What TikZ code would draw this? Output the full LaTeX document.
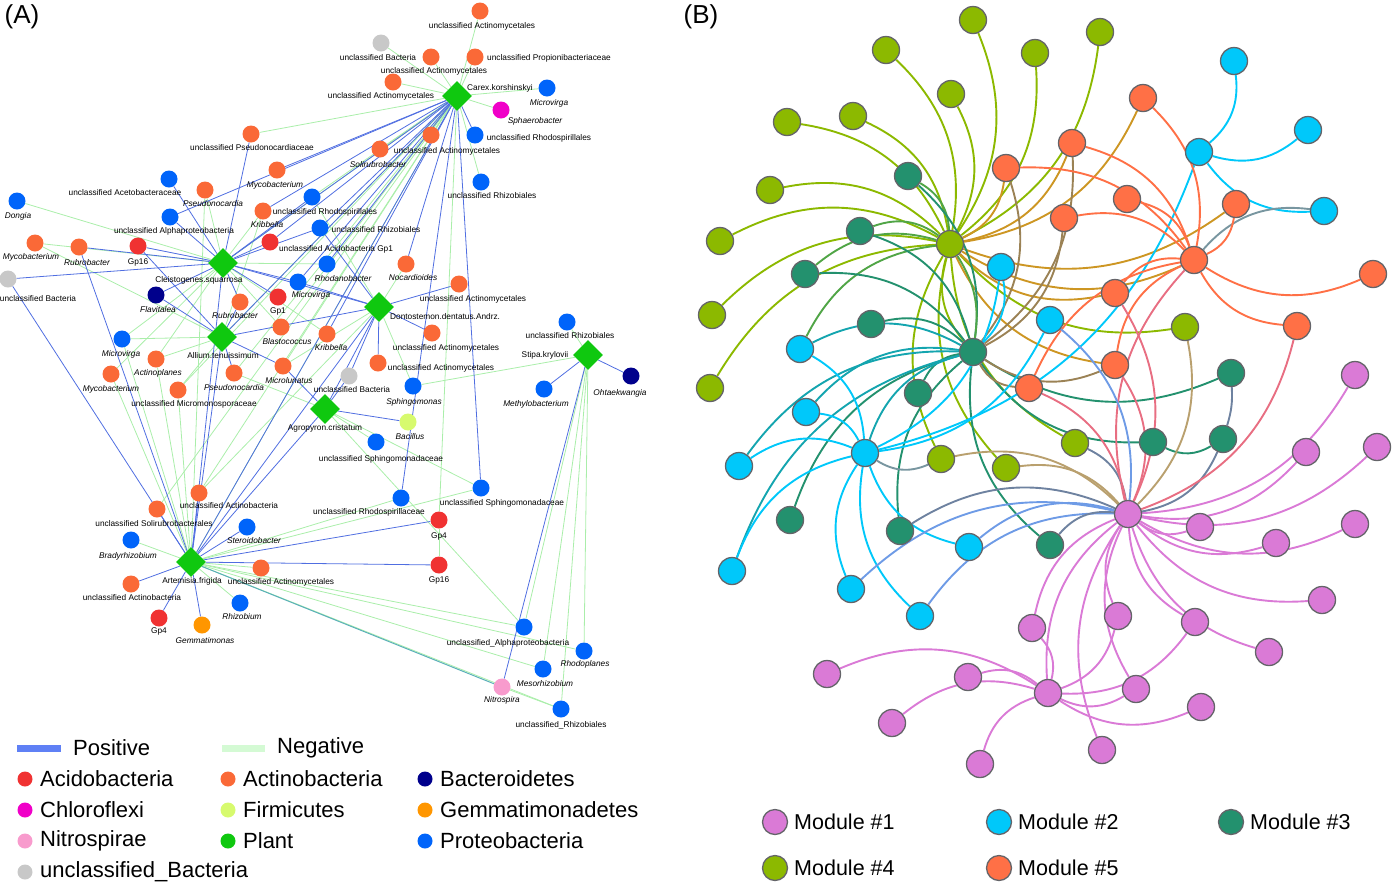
\documentclass[tikz,border=0pt]{standalone}
\usepackage{fontspec}
\setmainfont{Liberation Sans}
\usetikzlibrary{shapes.geometric}
\pgfdeclarelayer{edges}
\pgfsetlayers{edges,main}
\definecolor{cPos}{RGB}{80,110,225}
\definecolor{cNeg}{RGB}{170,238,170}
\definecolor{cPosL}{RGB}{95,128,245}
\definecolor{cNegL}{RGB}{212,250,212}
\definecolor{cAci}{RGB}{240,50,50}
\definecolor{cAct}{RGB}{250,105,55}
\definecolor{cBac}{RGB}{0,0,140}
\definecolor{cChl}{RGB}{240,0,200}
\definecolor{cFir}{RGB}{215,250,110}
\definecolor{cGem}{RGB}{255,150,0}
\definecolor{cNit}{RGB}{248,155,205}
\definecolor{cPla}{RGB}{15,200,15}
\definecolor{cPro}{RGB}{0,100,250}
\definecolor{cUnc}{RGB}{200,200,200}
\definecolor{cTeal}{RGB}{90,175,185}
\definecolor{mA}{RGB}{218,122,214}
\definecolor{mB}{RGB}{0,200,250}
\definecolor{mC}{RGB}{35,145,110}
\definecolor{mD}{RGB}{140,185,0}
\definecolor{mE}{RGB}{255,112,70}
\definecolor{eDE}{RGB}{205,150,35}
\definecolor{eCD}{RGB}{80,165,70}
\definecolor{eBC}{RGB}{20,165,175}
\definecolor{eCE}{RGB}{155,130,85}
\definecolor{eAE}{RGB}{232,110,130}
\definecolor{eAB}{RGB}{110,155,230}
\definecolor{eAC}{RGB}{110,130,160}
\definecolor{eAD}{RGB}{185,160,110}
\definecolor{eBE}{RGB}{120,150,160}
\definecolor{nodeB}{RGB}{100,100,105}
\newcommand{\Mn}[7]{\node[mic,fill=#4] (#1) at (#2,#3) {}; \node[lab] (#1l) at (#5,#6) {#7};}
\begin{document}
\begin{tikzpicture}[x=1pt,y=-1pt,
  mic/.style={circle,minimum size=17pt,inner sep=0pt},
  plant/.style={diamond,fill=cPla,minimum width=30pt,minimum height=30pt,inner sep=0pt},
  lab/.style={font=\fontsize{8.3}{9}\selectfont,inner sep=0pt},
  posedge/.style={draw=cPos,line width=0.8pt},
  negedge/.style={draw=cNeg,line width=0.8pt},
  bn/.style={circle,draw=nodeB,line width=1.3pt,minimum size=27pt,inner sep=0pt},
  be/.style={line width=1.9pt},
  leg/.style={font=\fontsize{22}{24}\selectfont,inner sep=0pt,anchor=west},
  legB/.style={font=\fontsize{21.5}{24}\selectfont,inner sep=0pt,anchor=west},
  ldot/.style={circle,minimum size=15pt,inner sep=0pt}]
\useasboundingbox (0,0) rectangle (1392,887);
\node[font=\fontsize{26}{28}\selectfont,inner sep=0pt] (tA) at (22,17) {(A)};
\node[font=\fontsize{26}{28}\selectfont,inner sep=0pt] (tB) at (701,17) {(B)};
% ---------- Panel A nodes ----------
\node[plant] (car) at (457,96) {}; \node[lab,anchor=west] (carl) at (467,88) {Carex.korshinskyi};
\node[plant] (cle) at (223,263) {}; \node[lab] (clel) at (199,280) {Cleistogenes.squarrosa};
\node[plant] (all) at (222,337) {}; \node[lab] (alll) at (223,356) {Allium.tenuissimum};
\node[plant] (don) at (379,307) {}; \node[lab,anchor=west] (donl) at (390,317) {Dontostemon.dentatus.Andrz.};
\node[plant] (agr) at (325,409) {}; \node[lab] (agrl) at (325,428) {Agropyron.cristatum};
\node[plant] (sti) at (588,355) {}; \node[lab] (stil) at (545,355) {Stipa.krylovii};
\node[plant] (art) at (191,562) {}; \node[lab] (artl) at (192,581) {Artemisia.frigida};
\Mn{a1}{480}{11}{cAct}{482}{26}{unclassified Actinomycetales}
\Mn{a2}{381}{43}{cUnc}{378}{58}{unclassified Bacteria}
\Mn{a3}{431}{57}{cAct}{434}{71}{unclassified Actinomycetales}
\Mn{a4}{475}{57}{cAct}{549}{58}{unclassified Propionibacteriaceae}
\Mn{a5}{393}{82}{cAct}{381}{96}{unclassified Actinomycetales}
\Mn{a6}{547}{88}{cPro}{549}{103}{\itshape Microvirga}
\Mn{a7}{501}{110}{cChl}{535}{121}{\itshape Sphaerobacter}
\Mn{a8}{431}{135}{cAct}{447}{151}{unclassified Actinomycetales}
\Mn{a9}{475}{135}{cPro}{539}{138}{unclassified Rhodospirillales}
\Mn{a10}{380}{149}{cAct}{378}{165}{\itshape Solirubrobacter}
\Mn{a11}{481}{182}{cPro}{492}{196}{unclassified Rhizobiales}
\Mn{a12}{251}{134}{cAct}{252}{148}{unclassified Pseudonocardiaceae}
\Mn{a13}{277}{170}{cAct}{275}{185}{\itshape Mycobacterium}
\Mn{a14}{169}{179}{cPro}{125}{193}{unclassified Acetobacteraceae}
\Mn{a15}{205}{190}{cAct}{213}{204}{\itshape Pseudonocardia}
\Mn{a16}{312}{197}{cPro}{325}{212}{unclassified Rhodospirillales}
\Mn{a17}{263}{211}{cAct}{267}{225}{\itshape Kribbella}
\Mn{a18}{17}{201}{cPro}{18}{216}{\itshape Dongia}
\Mn{a19}{170}{217}{cPro}{174}{231}{unclassified Alphaproteobacteria}
\Mn{a20}{320}{228}{cPro}{376}{230}{unclassified Rhizobiales}
\Mn{a21}{270}{242}{cAci}{336}{249}{unclassified Acidobacteria Gp1}
\Mn{a22}{35}{243}{cAct}{31}{257}{\itshape Mycobacterium}
\Mn{a23}{79}{247}{cAct}{87}{263}{\itshape Rubrobacter}
\Mn{a24}{138}{246}{cAci}{138}{262}{Gp16}
\Mn{a25}{327}{264}{cPro}{343}{279}{\itshape Rhodanobacter}
\Mn{a26}{406}{264}{cAct}{413}{278}{\itshape Nocardioides}
\Mn{a27}{8}{279}{cUnc}{38}{299}{unclassified Bacteria}
\Mn{a28}{459}{284}{cAct}{473}{299}{unclassified Actinomycetales}
\Mn{a29}{298}{282}{cPro}{311}{295}{\itshape Microvirga}
\Mn{a30}{156}{295}{cBac}{158}{310}{\itshape Flavitalea}
\Mn{a31}{278}{297}{cAci}{278}{311}{Gp1}
\Mn{a32}{240}{302}{cAct}{235}{316}{\itshape Rubrobacter}
\Mn{a33}{281}{327}{cAct}{287}{342}{\itshape Blastococcus}
\Mn{a34}{327}{334}{cAct}{331}{348}{\itshape Kribbella}
\Mn{a35}{432}{333}{cAct}{446}{348}{unclassified Actinomycetales}
\Mn{a36}{122}{339}{cPro}{121}{354}{\itshape Microvirga}
\Mn{a37}{156}{359}{cAct}{158}{373}{\itshape Actinoplanes}
\Mn{a38}{378}{363}{cAct}{441}{368}{unclassified Actinomycetales}
\Mn{a39}{283}{366}{cAct}{289}{381}{\itshape Microlunatus}
\Mn{a40}{234}{373}{cAct}{234}{388}{\itshape Pseudonocardia}
\Mn{a41}{111}{374}{cAct}{111}{389}{\itshape Mycobacterium}
\Mn{a42}{349}{376}{cUnc}{352}{390}{unclassified Bacteria}
\Mn{a43}{413}{386}{cPro}{414}{402}{\itshape Sphingomonas}
\Mn{a44}{178}{390}{cAct}{194}{404}{unclassified Micromonosporaceae}
\Mn{a45}{567}{322}{cPro}{570}{336}{unclassified Rhizobiales}
\Mn{a46}{544}{389}{cPro}{536}{404}{\itshape Methylobacterium}
\Mn{a47}{631}{376}{cBac}{620}{393}{\itshape Ohtaekwangia}
\Mn{a48}{408}{422}{cFir}{410}{437}{\itshape Bacillus}
\Mn{a49}{376}{442}{cPro}{381}{459}{unclassified Sphingomonadaceae}
\Mn{a50}{401}{498}{cPro}{369}{512}{unclassified Rhodospirillaceae}
\Mn{a51}{481}{488}{cPro}{502}{503}{unclassified Sphingomonadaceae}
\Mn{a52}{439}{520}{cAci}{439}{536}{Gp4}
\Mn{a53}{439}{565}{cAci}{439}{580}{Gp16}
\Mn{a54}{199}{493}{cAct}{229}{506}{unclassified Actinobacteria}
\Mn{a55}{157}{509}{cAct}{154}{524}{unclassified Solirubrobacterales}
\Mn{a56}{131}{540}{cPro}{128}{556}{\itshape Bradyrhizobium}
\Mn{a57}{247}{527}{cPro}{254}{541}{\itshape Steroidobacter}
\Mn{a58}{261}{568}{cAct}{281}{582}{unclassified Actinomycetales}
\Mn{a59}{131}{584}{cAct}{132}{598}{unclassified Actinobacteria}
\Mn{a60}{159}{618}{cAci}{159}{631}{Gp4}
\Mn{a61}{202}{625}{cGem}{205}{641}{\itshape Gemmatimonas}
\Mn{a62}{240}{603}{cPro}{242}{617}{\itshape Rhizobium}
\Mn{a63}{524}{627}{cPro}{508}{643}{unclassified\_Alphaproteobacteria}
\Mn{a64}{584}{651}{cPro}{585}{664}{\itshape Rhodoplanes}
\Mn{a65}{543}{669}{cPro}{545}{684}{\itshape Mesorhizobium}
\Mn{a66}{502}{687}{cNit}{502}{700}{\itshape Nitrospira}
\Mn{a67}{561}{709}{cPro}{561}{725}{unclassified\_Rhizobiales}
% ---------- Panel A edges ----------
\begin{pgfonlayer}{edges}
\foreach \a/\b in {car/a1,car/a2,car/a3,car/a4,car/a5,car/a6,car/a7,car/a8,car/a10,car/a11,car/a12,car/a52,car/art,car/all,car/cle,car/a40,car/a39,car/a54,car/a55,car/a44,car/a33,car/a16,
 cle/a18,cle/a22,cle/a15,cle/a17,cle/a25,cle/a33,cle/a34,cle/a37,cle/a41,cle/a36,
 all/a36,all/a37,all/a44,all/a17,all/a22,
 don/a43,don/a16,don/a26,don/a54,don/a39,
 agr/a40,agr/a49,agr/a51,agr/a63,
 art/a56,art/a62,art/a58,art/a50,art/a51,art/a63,art/a65,art/a64,art/a67,art/a41,art/a44,art/a37,art/a36,art/a15,
 sti/a45,sti/a43,sti/a63,sti/a64,sti/a65,sti/a67,a52/a53,a66/a67}
 \draw[negedge] (\a) -- (\b);
\foreach \a/\b in {car/a9,car/a13,car/a19,car/a17,car/a26,car/a50,car/a51,car/cle,car/all,car/art,car/a25,car/a29,car/a34,car/a21,car/a20,
 cle/a14,cle/a12,cle/a19,cle/a24,cle/a23,cle/a27,cle/a30,cle/a21,cle/a20,cle/a29,cle/a32,cle/don,cle/a31,cle/art,cle/a16,
 all/a24,all/a30,all/a32,all/don,all/a39,all/a40,all/art,
 don/a28,don/a35,don/a38,don/a20,don/a29,don/a42,don/agr,don/art,
 agr/a39,agr/a48,agr/a42,agr/art,
 art/a55,art/a54,art/a57,art/a59,art/a60,art/a61,art/a52,art/a53,art/a27,art/a23,
 sti/a46,sti/a47,sti/a66}
 \draw[posedge] (\a) -- (\b);
\draw[draw=cTeal,line width=1pt] (art) -- (a66);
\end{pgfonlayer}
% ---------- Panel A legend ----------
\coordinate (lp1) at (17,748); \coordinate (lp2) at (61,748);
\draw[cPosL,line width=7pt] (lp1) -- (lp2);
\node[leg] (lpt) at (73,748) {Positive};
\coordinate (ln1) at (222,748); \coordinate (ln2) at (265,748);
\draw[cNegL,line width=7pt] (ln1) -- (ln2);
\node[leg] (lnt) at (277,748) {Negative};
\foreach \n/\x/\y/\c/\t in {l1/25/779/cAci/Acidobacteria, l2/228/779/cAct/Actinobacteria, l3/425/779/cBac/Bacteroidetes,
 l4/25/810/cChl/Chloroflexi, l5/228/810/cFir/Firmicutes, l6/425/810/cGem/Gemmatimonadetes,
 l7/25/841/cNit/Nitrospirae, l8/228/841/cPla/Plant, l9/425/841/cPro/Proteobacteria,
 l10/25/872/cUnc/unclassified\_Bacteria}
 {\node[ldot,fill=\c] (\n) at (\x,\y) {}; \node[leg] (\n t) at (\x+15,\y) {\t};}
% ---------- Panel B nodes ----------
\foreach \n/\x/\y in {b4h/950/244,o1/973/20,o2/1100/32,o3/886/50,o4/1035/53,o5/951/94,o6/853/116,o7/787/122,o8/770/190,o9/720/241,o10/712/315,o11/710/388,o12/1185/327,o13/1075/443,o14/941/459,o15/1006/468}
 \node[bn,fill=mD] (\n) at (\x,\y) {};
\foreach \n/\x/\y in {b3h/973/352,g1/908/176,g2/860/231,g3/805/274,g4/871/324,g5/918/393,g6/1231/373,g7/1153/442,g8/1223/439,g9/790/520,g10/900/531,g11/1050/545}
 \node[bn,fill=mC] (\n) at (\x,\y) {};
\foreach \n/\x/\y in {b2h/865/453,c1/1234/61,c2/1308/130,c3/1199/152,c4/1324/211,c5/1001/267,c6/1050/320,c7/800/349,c8/806/412,c9/739/466,c10/732/571,c11/851/589,c12/920/616,c13/969/547}
 \node[bn,fill=mB] (\n) at (\x,\y) {};
\foreach \n/\x/\y in {b5h/1194/260,r1/1143/98,r2/1072/143,r3/1006/168,r4/1127/199,r5/1064/218,r6/1236/204,r7/1373/274,r8/1115/293,r9/1297/326,r10/1115/365,r11/1029/388}
 \node[bn,fill=mE] (\n) at (\x,\y) {};
\foreach \n/\x/\y in {b1h/1128/514,p1/1355/375,p2/1377/447,p3/1306/452,p4/1200/527,p5/1276/543,p6/1355/524,p7/1322/600,p8/1118/616,p9/1032/628,p10/1195/622,p11/1269/652,p12/827/674,p13/968/677,p14/1048/693,p15/1136/689,p16/1201/707,p17/892/723,p18/980/764,p19/1102/750}
 \node[bn,fill=mA] (\n) at (\x,\y) {};
% ---------- Panel B edges ----------
\begin{pgfonlayer}{edges}
\foreach \a/\b/\c in {b4h/o1/mD,b4h/o2/mD,b4h/o3/mD,b4h/o4/mD,b4h/o5/mD,b4h/o6/mD,b4h/o7/mD,b4h/o8/mD,b4h/o9/mD,b4h/o10/mD,b4h/o11/mD,b4h/o12/mD,b4h/o13/mD,b4h/o14/mD,b4h/o15/mD,
 b4h/g1/eCD,b4h/g2/eCD,b4h/g3/eCD,b4h/r1/eDE,b4h/r2/eDE,b4h/r3/eDE,b4h/r6/eDE,b4h/r8/eDE,b4h/r10/eDE,b4h/b5h/eDE,b4h/c7/eCD,b4h/b3h/mD,
 b3h/g1/mC,b3h/g2/mC,b3h/g3/mC,b3h/g4/mC,b3h/g5/mC,b3h/g6/mC,b3h/g7/mC,b3h/g9/mC,b3h/g10/mC,b3h/g11/mC,g7/g8/mC,
 b3h/c7/eBC,b3h/c8/eBC,b3h/c9/eBC,b3h/c10/eBC,b3h/b2h/eBC,b3h/r2/eCE,b3h/r3/eCE,b3h/r5/eCE,b3h/r11/eCE,b3h/r10/eCE,b3h/c5/mB,
 b2h/c7/mB,b2h/c8/mB,b2h/c9/mB,b2h/c10/mB,b2h/c11/mB,b2h/c12/mB,b2h/c13/mB,b2h/c5/mB,b2h/c6/mB,b2h/c3/mB,b2h/o14/eBE,
 c3/c1/mB,c3/c2/mB,c3/c4/mB,c4/b5h/eBE,
 b5h/r1/mE,b5h/r2/mE,b5h/r3/mE,b5h/r4/mE,b5h/r5/mE,b5h/r6/mE,b5h/r7/mE,b5h/r8/mE,b5h/r9/mE,b5h/r10/mE,b5h/r11/mE,b5h/b1h/eAE,
 b1h/p1/mA,b1h/p2/mA,b1h/p3/mA,b1h/p4/mA,b1h/p5/mA,b1h/p6/mA,b1h/p7/mA,b1h/p8/mA,b1h/p9/mA,b1h/p10/mA,b1h/p11/mA,b1h/p14/mA,b1h/p15/mA,b1h/p19/mA,
 b1h/c13/eAB,b1h/c12/eAB,b1h/c11/eAB,b1h/c6/eAB,b1h/g10/eAC,b1h/g11/eAC,b1h/g8/eAC,b1h/o15/eAD,b1h/o13/eAC,b1h/o14/eAD,b1h/o12/eAD,b1h/r11/eAE,b1h/r9/eAE,b1h/r8/eAE,b1h/r10/eAE,
 p14/p12/mA,p14/p13/mA,p14/p17/mA,p14/p18/mA,p14/p9/mA,p14/p15/mA,p14/p16/mA,p14/p10/mA,p14/p8/mA}
 \draw[be,draw=\c] (\a) to[bend right=28] (\b);
\draw[be,draw=eCD] (b4h) to[bend left=20] (b3h);
\draw[be,draw=eAC] (g6) to[bend left=10] (g8);
\end{pgfonlayer}
% ---------- Panel B legend ----------
\foreach \n/\x/\y/\c/\t in {k1/775/822/mA/Module \#1, k2/999/822/mB/Module \#2, k3/1231/822/mC/Module \#3, k4/775/868/mD/Module \#4, k5/999/868/mE/Module \#5}
 {\node[bn,fill=\c,minimum size=25pt] (\n) at (\x,\y) {}; \node[legB] (\n t) at (\x+19,\y) {\t};}
\end{tikzpicture}
\end{document}
